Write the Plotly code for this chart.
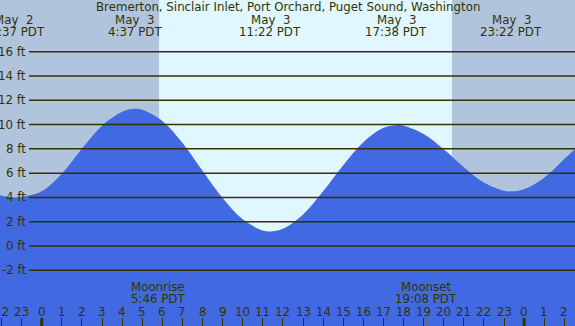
import plotly.graph_objects as go

# ---- data (hours relative to May 3 00:00 PDT) ----
tide_hours = [-2.1, -1.38, -1.0, 0, 1, 2, 3, 4, 4.62, 5, 6, 7, 8, 9, 10, 11, 11.37,
              12, 13, 14, 15, 16, 17, 17.63, 18, 19, 20, 21, 22, 23, 23.37, 24, 25, 26, 26.6]
tide_feet = [4.2, 4.0, 4.05, 4.5, 5.95, 8.0, 9.9, 11.05, 11.3, 11.22, 10.3, 8.5, 6.2, 3.95, 2.2, 1.27, 1.2,
             1.42, 2.6, 4.5, 6.65, 8.55, 9.73, 9.95, 9.9, 9.22, 7.96, 6.49, 5.23, 4.55, 4.5, 4.68, 5.63, 7.16, 8.1]

event_hours = [-1.38, 4.62, 11.37, 17.63, 23.37]
event_dates = ["May  2", "May  3", "May  3", "May  3", "May  3"]
event_times = ["22:37 PDT", "4:37 PDT", "11:22 PDT", "17:38 PDT", "23:22 PDT"]

sun_hours = [5.84, 20.41]          # sunrise, sunset
moon_hours = [5.77, 19.13]
moon_names = ["Moonrise", "Moonset"]
moon_times = ["5:46 PDT", "19:08 PDT"]

hour_ticks = list(range(-2, 27))
hour_labels = [str(h % 24) for h in hour_ticks]
midnights = [0, 24]

y_ticks = [-2, 0, 2, 4, 6, 8, 10, 12, 14, 16]
y_labels = [f"{v} ft" for v in y_ticks]

title = "Bremerton, Sinclair Inlet, Port Orchard, Puget Sound, Washington"

X_RANGE = [-2.075, 26.532]
Y_RANGE = [-6.58, 20.25]

NIGHT = "#b0c4de"
DAY = "#e0f7ff"
WATER = "#4169e1"
INK = "#333300"
FONT = dict(family="DejaVu Sans", size=11.8, color=INK)

fig = go.Figure()
# baseline for the water fill
fig.add_trace(go.Scatter(x=tide_hours, y=[Y_RANGE[0]] * len(tide_hours), mode="lines",
                         line=dict(width=0), hoverinfo="skip", showlegend=False))
fig.add_trace(go.Scatter(x=tide_hours, y=tide_feet, mode="lines", line=dict(width=0, shape="spline", color=WATER),
                         fill="tonexty", fillcolor=WATER, showlegend=False))

shapes = []
shapes.append(dict(type="rect", xref="x", yref="paper", x0=sun_hours[0], x1=sun_hours[1], y0=0, y1=1,
                   fillcolor=DAY, line=dict(width=0), layer="below"))
for v in y_ticks:
    shapes.append(dict(type="line", xref="paper", yref="y", x0=29 / 575, x1=1, y0=v, y1=v,
                       line=dict(color=INK, width=1.5), layer="above"))
for m in midnights:
    shapes.append(dict(type="line", xref="x", yref="paper", x0=m, x1=m, y0=0, y1=8 / 326,
                       line=dict(color=INK, width=3), layer="above"))
for m in moon_hours:
    shapes.append(dict(type="line", xref="x", yref="paper", x0=m, x1=m, y0=0, y1=8 / 326,
                       line=dict(color="#806a30", width=1), layer="above"))


def line_ann(text, x, xref, ypix, xanchor="center"):
    return dict(text=text, x=x, xref=xref, y=1, yref="paper", yanchor="middle", xanchor=xanchor,
                yshift=-ypix, showarrow=False, font=FONT)


ann = [line_ann(title, 0.5, "paper", 7.3)]
for h, d, t in zip(event_hours, event_dates, event_times):
    ann.append(line_ann(d, h, "x", 20))
    ann.append(line_ann(t, h, "x", 31.8))
for h, n, t in zip(moon_hours, moon_names, moon_times):
    ann.append(line_ann(n, h, "x", 287))
    ann.append(line_ann(t, h, "x", 299))
for h, lab in zip(hour_ticks, hour_labels):
    ann.append(line_ann(lab, h, "x", 311.5))
for v, lab in zip(y_ticks, y_labels):
    ann.append(dict(text=lab, x=28 / 575, xref="paper", y=v, yref="y", xanchor="right", yanchor="middle",
                    showarrow=False, font=FONT))

fig.update_layout(
    width=575, height=326, autosize=False,
    margin=dict(l=0, r=0, t=0, b=0),
    paper_bgcolor=NIGHT, plot_bgcolor=NIGHT,
    shapes=shapes, annotations=ann, showlegend=False,
    xaxis=dict(range=X_RANGE, tickmode="array", tickvals=hour_ticks, ticktext=hour_labels,
               ticks="inside", ticklen=8, tickcolor=INK, tickwidth=1, showticklabels=False,
               showgrid=False, zeroline=False, showline=False, fixedrange=True),
    yaxis=dict(range=Y_RANGE, showgrid=False, zeroline=False, showticklabels=False, ticks="",
               fixedrange=True),
)
fig.write_html("out.html", config={"displayModeBar": False, "staticPlot": True})

# remove the browser's default page margin so the chart fills the window
with open("out.html", encoding="utf-8") as f:
    html = f.read()
html = html.replace("<head>", "<head><style>html,body{margin:0;padding:0;overflow:hidden;}</style>", 1)
with open("out.html", "w", encoding="utf-8") as f:
    f.write(html)
